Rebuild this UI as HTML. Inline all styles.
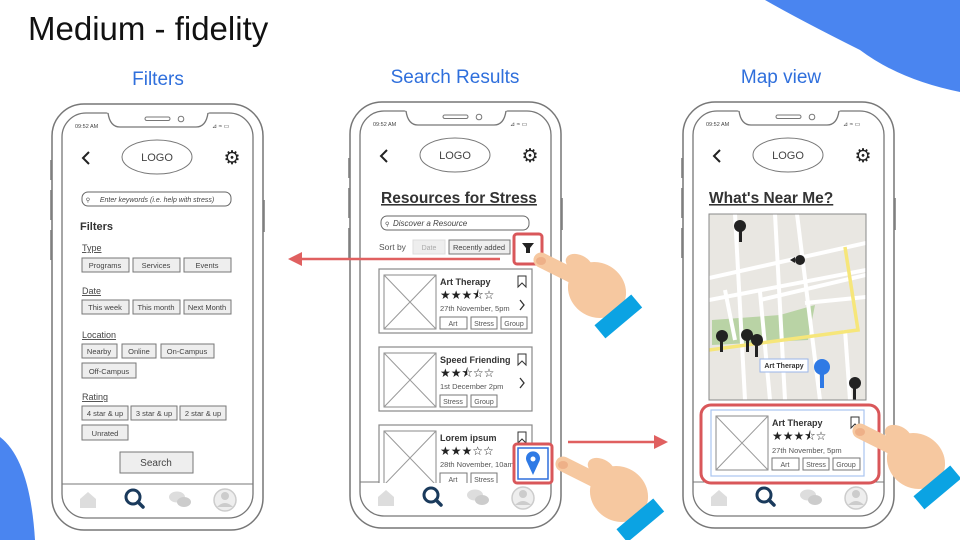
<!DOCTYPE html>
<html><head><meta charset="utf-8"><style>
html,body{margin:0;padding:0;background:#fff;}
svg{display:block;font-family:"Liberation Sans",sans-serif;}
</style></head><body>
<svg width="960" height="540" viewBox="0 0 960 540" xmlns="http://www.w3.org/2000/svg">
<defs>
<g id="frame">
  <rect x="50" y="160" width="3" height="20" fill="#999"/>
  <rect x="50" y="190" width="3" height="30" fill="#999"/>
  <rect x="50" y="230" width="3" height="30" fill="#999"/>
  <rect x="262" y="200" width="3" height="32" fill="#999"/>
  <rect x="52" y="104" width="211" height="426" rx="32" fill="#fff" stroke="#777" stroke-width="1.5"/>
  <rect x="62" y="113" width="191" height="405" rx="24" fill="#fff" stroke="#777" stroke-width="1.3"/>
  <path d="M104,111 L108,113 Q110,127 120,127 L196,127 Q206,127 208,113 L212,111 Z" fill="#fff"/>
  <path d="M108,113 Q110,127 120,127 L196,127 Q206,127 208,113" fill="none" stroke="#777" stroke-width="1.3"/>
  <rect x="145" y="117" width="25" height="3.5" rx="1.7" fill="none" stroke="#777"/>
  <circle cx="181" cy="119" r="2.8" fill="none" stroke="#777"/>
  <text x="75" y="128" font-size="5.5" fill="#444">09:52 AM</text>
  <text x="212" y="128" font-size="6" fill="#444">⊿ ≈ ▭</text>
  <path d="M89,152 L83,158 L89,164" fill="none" stroke="#222" stroke-width="2"/>
  <ellipse cx="157" cy="157" rx="35" ry="17" fill="#fff" stroke="#777"/>
  <text x="157" y="161" font-size="11" text-anchor="middle" fill="#444">LOGO</text>
  <text x="232" y="164" font-size="19" text-anchor="middle" fill="#222" font-family="DejaVu Sans">⚙</text>
  <line x1="62" y1="484" x2="253" y2="484" stroke="#777"/>
  <path d="M80,508 L80,499 L88,492 L96,499 L96,508 Z" fill="#ddd"/>
  <circle cx="133" cy="497" r="7" fill="none" stroke="#1a3a5c" stroke-width="3"/>
  <line x1="138" y1="502" x2="143" y2="507" stroke="#1a3a5c" stroke-width="3.5" stroke-linecap="round"/>
  <ellipse cx="177" cy="497" rx="8" ry="5.5" fill="#ddd"/>
  <ellipse cx="184" cy="502" rx="7" ry="5" fill="#ccc"/>
  <circle cx="225" cy="500" r="11" fill="#eee" stroke="#ccc" stroke-width="1.5"/>
  <circle cx="225" cy="496" r="4" fill="#ccc"/>
  <path d="M217,507 Q225,499 233,507" fill="#ccc"/>
</g>
<g id="hand">
  <ellipse cx="58" cy="32" rx="30" ry="27" fill="#f6c8a0" transform="rotate(35 58 32)"/>
  <line x1="2" y1="2" x2="42" y2="22" stroke="#f6c8a0" stroke-width="15" stroke-linecap="round"/>
  <ellipse cx="40" cy="6" rx="14" ry="9" fill="#f6c8a0" transform="rotate(25 40 6)"/>
  <ellipse cx="2" cy="3" rx="5" ry="4" fill="#eeb088"/>
  <rect x="55" y="50" width="48" height="17" fill="#0ba3e3" transform="rotate(-40 79 58)"/>
</g>
</defs>

<!-- blobs -->
<path d="M765,0 L960,0 L960,92 Q900,80 860,50 Q800,20 765,0 Z" fill="#4a85f0"/>
<path d="M0,437 Q30,460 35,540 L0,540 Z" fill="#4a85f0"/>

<text x="28" y="40" font-size="33" fill="#111">Medium - fidelity</text>
<text x="158" y="85" font-size="19" fill="#2f6fdc" text-anchor="middle">Filters</text>
<text x="455" y="83" font-size="19" fill="#2f6fdc" text-anchor="middle">Search  Results</text>
<text x="781" y="83" font-size="19" fill="#2f6fdc" text-anchor="middle">Map view</text>

<!-- Phone 1 -->
<use href="#frame"/>
<g font-size="7.5" fill="#444" text-anchor="middle">
<rect x="82" y="192" width="149" height="14" rx="6" fill="#fff" stroke="#666"/>
<text x="88" y="202" font-size="6">⚲</text>
<text x="157" y="202" font-size="7" font-style="italic">Enter keywords (i.e. help with stress)</text>
<text x="80" y="230" font-size="11" font-weight="bold" fill="#333" text-anchor="start">Filters</text>
<g text-anchor="start" font-size="9" fill="#444" text-decoration="underline">
<text x="82" y="251">Type</text><text x="82" y="294">Date</text><text x="82" y="338">Location</text><text x="82" y="400">Rating</text>
</g>
<g fill="#eee" stroke="#777">
<rect x="82" y="258" width="47" height="14"/><rect x="133" y="258" width="47" height="14"/><rect x="184" y="258" width="47" height="14"/>
<rect x="82" y="300" width="47" height="14"/><rect x="133" y="300" width="47" height="14"/><rect x="184" y="300" width="47" height="14"/>
<rect x="82" y="344" width="35" height="14"/><rect x="122" y="344" width="34" height="14"/><rect x="161" y="344" width="53" height="14"/>
<rect x="82" y="363" width="54" height="15"/>
<rect x="82" y="406" width="46" height="14"/><rect x="131" y="406" width="46" height="14"/><rect x="180" y="406" width="46" height="14"/>
<rect x="82" y="425" width="46" height="15"/>
<rect x="120" y="452" width="73" height="21"/>
</g>
<text x="105" y="268">Programs</text><text x="156" y="268">Services</text><text x="207" y="268">Events</text>
<text x="105" y="310">This week</text><text x="156" y="310">This month</text><text x="207" y="310">Next Month</text>
<text x="99" y="354">Nearby</text><text x="139" y="354">Online</text><text x="187" y="354">On-Campus</text>
<text x="109" y="374">Off-Campus</text>
<text x="105" y="416">4 star &amp; up</text><text x="154" y="416">3 star &amp; up</text><text x="203" y="416">2 star &amp; up</text>
<text x="105" y="436">Unrated</text>
<text x="156" y="466" font-size="10">Search</text>
</g>

<!-- Phone 2 -->
<use href="#frame" transform="translate(298,-2)"/>
<text x="381" y="203" font-size="15.5" font-weight="bold" fill="#333" text-decoration="underline">Resources for Stress</text>
<rect x="381" y="216" width="148" height="14" rx="6" fill="#fff" stroke="#666"/>
<text x="385" y="226" font-size="6" fill="#444">⚲</text>
<text x="393" y="226" font-size="8" font-style="italic" fill="#444">Discover a Resource</text>
<text x="379" y="250" font-size="8.5" fill="#555">Sort by</text>
<rect x="413" y="240" width="32" height="14" fill="#eee" stroke="#ddd"/>
<text x="429" y="250" font-size="7" fill="#aaa" text-anchor="middle">Date</text>
<rect x="449" y="240" width="61" height="14" fill="#eee" stroke="#777"/>
<text x="479" y="250" font-size="7.5" fill="#444" text-anchor="middle">Recently added</text>
<rect x="514" y="234" width="28" height="30" rx="3" fill="#fff" stroke="#d9575a" stroke-width="3"/>
<path d="M522,243 L534,243 L530,248 L530,253 L526,253 L526,248 Z" fill="#222"/>
<g id="card">
<rect x="379" y="269" width="153" height="64" fill="#fff" stroke="#888" stroke-width="1.2"/>
<rect x="384" y="275" width="52" height="54" fill="#fff" stroke="#888"/>
<path d="M384,275 L436,329 M436,275 L384,329" stroke="#999"/>
<path d="M518,276 L526,276 L526,287 L522,283 L518,287 Z" fill="none" stroke="#333"/>
</g>
<g font-size="9" fill="#333">
<text x="440" y="285" font-weight="bold">Art Therapy</text>
<text x="440" y="299" font-size="12" fill="#222">★★★⯪☆</text>
<text x="440" y="311" font-size="7.5" fill="#555">27th November, 5pm</text>
<path d="M520,300 L524,305 L520,310" fill="none" stroke="#333" stroke-width="1.3"/>
<g fill="none" stroke="#777"><rect x="440" y="317" width="27" height="12"/><rect x="471" y="317" width="26" height="12"/><rect x="501" y="317" width="26" height="12"/></g>
<g font-size="7" fill="#555" text-anchor="middle"><text x="453" y="326">Art</text><text x="484" y="326">Stress</text><text x="514" y="326">Group</text></g>
</g>
<use href="#card" transform="translate(0,78)"/>
<g font-size="9" fill="#333">
<text x="440" y="363" font-weight="bold">Speed Friending</text>
<text x="440" y="377" font-size="12" fill="#222">★★⯪☆☆</text>
<text x="440" y="389" font-size="7.5" fill="#555">1st December 2pm</text>
<path d="M520,378 L524,383 L520,388" fill="none" stroke="#333" stroke-width="1.3"/>
<g fill="none" stroke="#777"><rect x="440" y="395" width="27" height="12"/><rect x="471" y="395" width="26" height="12"/></g>
<g font-size="7" fill="#555" text-anchor="middle"><text x="453" y="404">Stress</text><text x="484" y="404">Group</text></g>
</g>
<svg x="0" y="0" width="960" height="483">
<use href="#card" transform="translate(0,156)"/>
<g font-size="9" fill="#333">
<text x="440" y="441" font-weight="bold">Lorem ipsum</text>
<text x="440" y="455" font-size="12" fill="#222">★★★☆☆</text>
<text x="440" y="467" font-size="7.5" fill="#555">28th November, 10am</text>
<g fill="none" stroke="#777"><rect x="440" y="473" width="27" height="12"/><rect x="471" y="473" width="26" height="12"/></g>
<g font-size="7" fill="#555" text-anchor="middle"><text x="453" y="482">Art</text><text x="484" y="482">Stress</text></g>
</g>
</svg>
<rect x="514" y="444" width="38" height="39" rx="3" fill="#fff" stroke="#d9575a" stroke-width="3"/>
<rect x="518" y="448" width="30" height="31" fill="#fff" stroke="#2f6fdc" stroke-width="1.5"/>
<path d="M533,475 L527,462 A7,7 0 1 1 539,462 Z" fill="#2f7ae5"/>
<circle cx="533" cy="459" r="2.5" fill="#fff"/>

<!-- arrows -->
<line x1="500" y1="259" x2="298" y2="259" stroke="#e06060" stroke-width="2.5"/>
<path d="M288,259 L302,252 L302,266 Z" fill="#e06060"/>
<line x1="568" y1="442" x2="658" y2="442" stroke="#e06060" stroke-width="2.5"/>
<path d="M668,442 L654,435 L654,449 Z" fill="#e06060"/>

<!-- Phone 3 -->
<use href="#frame" transform="translate(631,-2)"/>
<text x="709" y="203" font-size="15.5" font-weight="bold" fill="#333" text-decoration="underline">What's Near Me?</text>
<svg x="709" y="214" width="157" height="186" viewBox="709 214 157 186">
<rect x="709" y="214" width="157" height="186" fill="#e9e7e2"/>
<path d="M712,320 L780,315 L815,305 L808,340 L712,345 Z" fill="#b9d3a5"/>
<g stroke="#fff" stroke-width="4" fill="none">
<path d="M709,278 L866,243"/><path d="M709,300 L866,270"/><path d="M760,300 L866,275"/>
<path d="M735,214 L745,400"/><path d="M775,214 L785,400"/><path d="M797,214 L820,400"/>
<path d="M760,292 L770,400"/><path d="M725,290 L735,340"/><path d="M805,303 L866,297"/>
<path d="M845,330 L850,400"/>
</g>
<path d="M709,350 L858,330 L845,247" stroke="#f6e67a" stroke-width="3.5" fill="none"/>
<g fill="#222"><circle cx="740" cy="226" r="6"/><rect x="739" y="230" width="3" height="12"/>
<circle cx="800" cy="260" r="5"/><path d="M790,260 L795,257 L795,263 Z"/>
<circle cx="722" cy="336" r="6"/><rect x="720" y="340" width="3" height="12"/>
<circle cx="747" cy="335" r="6"/><rect x="746" y="340" width="3" height="12"/>
<circle cx="757" cy="340" r="6"/><rect x="755" y="345" width="3" height="12"/>
<circle cx="855" cy="383" r="6"/><rect x="853" y="388" width="3" height="12"/></g>
<circle cx="822" cy="367" r="8" fill="#2f7ae5"/><rect x="820" y="372" width="4" height="16" fill="#2f7ae5"/>
<rect x="760" y="359" width="48" height="13" fill="#fff" stroke="#9ab6e8"/>
<text x="784" y="368" font-size="7" font-weight="bold" fill="#333" text-anchor="middle">Art Therapy</text>
</svg>
<rect x="709" y="214" width="157" height="186" fill="none" stroke="#888"/>
<rect x="701" y="405" width="178" height="78" rx="10" fill="#fff" stroke="#d9575a" stroke-width="3"/>
<rect x="711" y="410" width="153" height="66" fill="#fff" stroke="#a9c4ef" stroke-width="1.2"/>
<rect x="716" y="416" width="52" height="54" fill="#fff" stroke="#888"/>
<path d="M716,416 L768,470 M768,416 L716,470" stroke="#999"/>
<path d="M851,417 L859,417 L859,428 L855,424 L851,428 Z" fill="none" stroke="#333"/>
<g font-size="9" fill="#333">
<text x="772" y="426" font-weight="bold">Art Therapy</text>
<text x="772" y="440" font-size="12" fill="#222">★★★⯪☆</text>
<text x="772" y="453" font-size="7.5" fill="#555">27th November, 5pm</text>
<g fill="none" stroke="#777"><rect x="772" y="458" width="27" height="12"/><rect x="803" y="458" width="26" height="12"/><rect x="833" y="458" width="27" height="12"/></g>
<g font-size="7" fill="#555" text-anchor="middle"><text x="785" y="467">Art</text><text x="816" y="467">Stress</text><text x="846" y="467">Group</text></g>
</g>

<!-- hands -->
<use href="#hand" transform="translate(539,258)"/>
<use href="#hand" transform="translate(561,462)"/>
<use href="#hand" transform="translate(858,429)"/>
</svg>
</body></html>
